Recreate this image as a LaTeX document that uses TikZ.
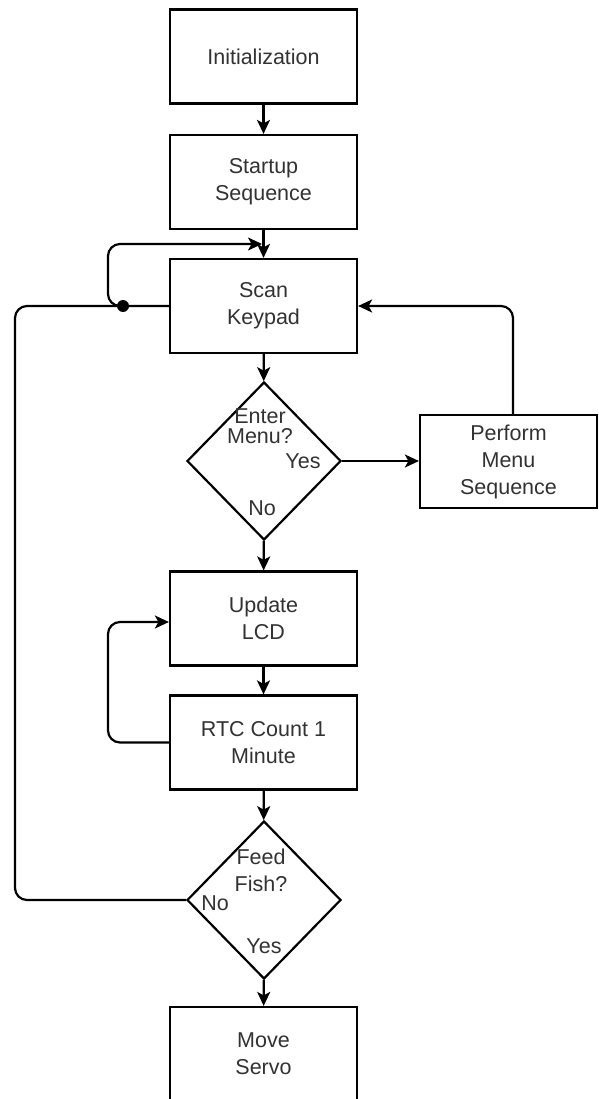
\documentclass[tikz,border=0pt]{standalone}
\usepackage{fontspec}
\setmainfont{Liberation Sans}
\usetikzlibrary{arrows.meta,shapes.geometric,calc}
\definecolor{txt}{RGB}{50,50,50}
\begin{document}
\begin{tikzpicture}[x=1pt,y=-1pt,
  box/.style={draw, line width=2.2pt, minimum width=187pt, minimum height=94pt, inner sep=0pt, align=center, text=txt, font=\fontsize{21.5}{27}\selectfont},
  dec/.style={draw, shape=diamond, line width=2.2pt, minimum width=154pt, minimum height=158pt, inner sep=0pt, aspect=0.975},
  lbl/.style={text=txt, font=\fontsize{21.5}{27}\selectfont, inner sep=0pt, align=center},
  conn/.style={line width=2.2pt, rounded corners=12pt},
  arr/.style={conn, -{Stealth[length=14pt,width=13pt,inset=3.5pt]}},
]
\clip (0,0) rectangle (598,1099);

\node[box] (init) at (263.5,56.5) {Initialization};
\node[box] (startup) at (263.5,182) {Startup\\Sequence};
\node[box] (scan) at (263.5,306) {Scan\\Keypad};
\node[dec] (enter) at (264,461) {};
\node[lbl] (enterlbl) at (260,426) {Enter\\[-7pt]Menu?};
\node[lbl] (enteryes) at (303,461) {Yes};
\node[lbl] (enterno) at (262,508) {No};
\node[box, minimum width=177pt, minimum height=93pt] (perform) at (508.5,461.5) {Perform\\Menu\\Sequence};
\node[box] (update) at (263.5,618.5) {Update\\LCD};
\node[box] (rtc) at (263.5,742.5) {RTC Count 1\\Minute};
\node[dec] (feed) at (264,900) {};
\node[lbl] (feedlbl) at (261,870) {Feed\\Fish?};
\node[lbl] (feedno) at (215,903) {No};
\node[lbl] (feedyes) at (264,946) {Yes};
\node[box] (move) at (263.5,1054) {Move\\Servo};

\coordinate (leftrail) at (15,0);
\coordinate (innerrail) at (108,0);
\coordinate (junction) at (123,306);
\coordinate (topentry) at (262,244);

\draw[arr] (init) -- (startup);
\draw[arr] (startup) -- (scan);
\draw[arr] (scan) -- (enter);
\draw[arr] (enter.east) -- (enter.east -| perform.west);
\draw[arr] (enter) -- (update);
\draw[arr] (update) -- (rtc);
\draw[arr] (rtc) -- (feed);
\draw[arr] (feed) -- (move);
\draw[arr] ([xshift=4.5pt]perform.north) |- (scan.east);
\draw[arr] (rtc.west) -- (rtc.west -| innerrail) |- ([yshift=-3.5pt]update.west);
\draw[conn] (feed.west) -- (feed.west -| leftrail) |- (scan.west);
\draw[arr] (junction) -- (junction -| innerrail) |- (topentry);
\fill (junction) circle (6pt);
\end{tikzpicture}
\end{document}
